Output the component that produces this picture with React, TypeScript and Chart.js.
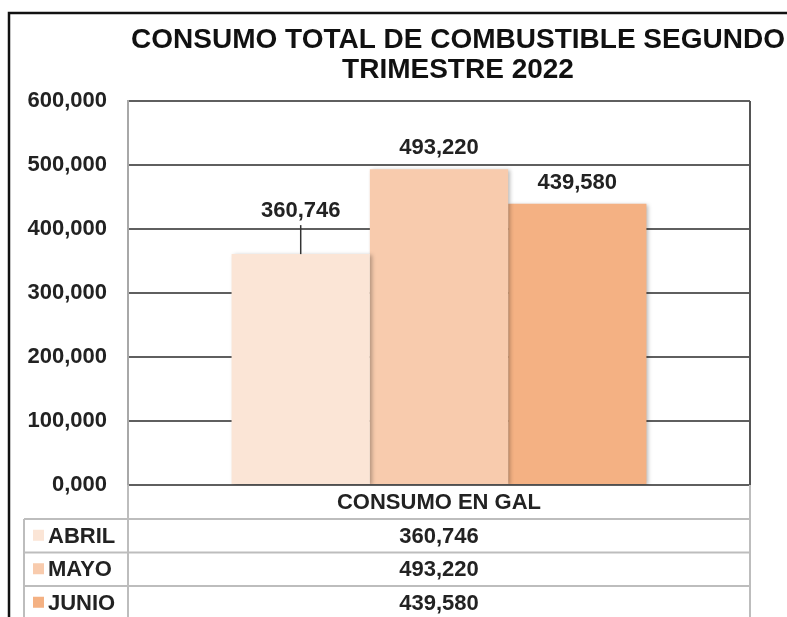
import React, { useEffect, useRef } from "react";
import { Chart, registerables } from "chart.js";

Chart.register(...registerables);

const titleLines = ["CONSUMO TOTAL DE COMBUSTIBLE SEGUNDO", "TRIMESTRE 2022"];
const categories = ["CONSUMO EN GAL"];
const seriesNames = ["ABRIL", "MAYO", "JUNIO"];
const seriesValues = [360746, 493220, 439580];
const seriesColors = ["#FBE5D6", "#F8CBAD", "#F4B183"];
const yMin = 0;
const yMax = 600000;
const yStep = 100000;

const FONT = '"Liberation Sans", Arial, sans-serif';
const fmt = (v: number) => (v / 1000).toFixed(3).replace(".", ",");

const decorPlugin = {
  id: "decor",
  beforeDatasetsDraw(chart: any) {
    const ctx = chart.ctx;
    ctx.save();
    ctx.shadowColor = "rgba(0,0,0,0.28)";
    ctx.shadowBlur = 4;
    ctx.shadowOffsetX = 2;
    ctx.shadowOffsetY = 1;
  },
  afterDatasetsDraw(chart: any) {
    const ctx = chart.ctx;
    ctx.restore();
    ctx.save();
    ctx.font = `bold 22px ${FONT}`;
    ctx.fillStyle = "#222";
    ctx.textAlign = "center";
    ctx.textBaseline = "middle";
    chart.data.datasets.forEach((ds: any, i: number) => {
      const meta = chart.getDatasetMeta(i);
      meta.data.forEach((bar: any, j: number) => {
        const v = ds.data[j];
        if (i === 0) {
          const ly = bar.y - 43;
          ctx.fillText(fmt(v), bar.x, ly);
          ctx.strokeStyle = "#333";
          ctx.lineWidth = 1.5;
          ctx.beginPath();
          ctx.moveTo(bar.x, ly + 14);
          ctx.lineTo(bar.x, bar.y);
          ctx.stroke();
        } else {
          ctx.fillText(fmt(v), bar.x, bar.y - 21);
        }
      });
    });
    ctx.restore();
  },
  afterDraw(chart: any) {
    const ctx = chart.ctx;
    const { left, right, top, bottom } = chart.chartArea;
    const H = chart.height;
    const W = chart.width;
    ctx.save();
    // title
    ctx.font = `bold 28px ${FONT}`;
    ctx.fillStyle = "#111";
    ctx.textAlign = "center";
    ctx.textBaseline = "middle";
    titleLines.forEach((t, i) => ctx.fillText(t, 458, 40 + i * 30));

    // outer frame
    ctx.strokeStyle = "#111";
    ctx.lineWidth = 2.5;
    ctx.beginPath();
    ctx.moveTo(9, H);
    ctx.lineTo(9, 13);
    ctx.lineTo(W, 13);
    ctx.stroke();

    // plot right border
    ctx.strokeStyle = "#555";
    ctx.lineWidth = 2;
    ctx.beginPath();
    ctx.moveTo(right, top);
    ctx.lineTo(right, bottom);
    ctx.stroke();

    // data table
    const headerH = 34;
    const rowH = 33.5;
    const tableLeft = 24;
    ctx.strokeStyle = "#bdbdbd";
    ctx.lineWidth = 2;
    ctx.beginPath();
    ctx.moveTo(left, bottom);
    ctx.lineTo(left, H);
    ctx.moveTo(right, bottom);
    ctx.lineTo(right, H);
    ctx.moveTo(tableLeft, bottom + headerH);
    ctx.lineTo(tableLeft, H);
    for (let i = 0; i < seriesNames.length; i++) {
      const y = bottom + headerH + i * rowH;
      ctx.moveTo(tableLeft, y);
      ctx.lineTo(right, y);
    }
    ctx.stroke();

    ctx.font = `bold 22px ${FONT}`;
    ctx.fillStyle = "#222";
    ctx.textBaseline = "middle";
    ctx.textAlign = "center";
    ctx.fillText(categories[0], (left + right) / 2, bottom + headerH / 2 + 1);
    seriesNames.forEach((name, i) => {
      const cy = bottom + headerH + i * rowH + rowH / 2;
      ctx.fillStyle = seriesColors[i];
      ctx.fillRect(33, cy - 6, 11, 11);
      ctx.fillStyle = "#222";
      ctx.textAlign = "left";
      ctx.fillText(name, 48, cy + 1);
      ctx.textAlign = "center";
      ctx.fillText(fmt(seriesValues[i]), (left + right) / 2, cy + 1);
    });
    ctx.restore();
  },
};

export default function App() {
  const ref = useRef<HTMLCanvasElement>(null);
  useEffect(() => {
    if (!ref.current) return;
    const chart = new Chart(ref.current, {
      type: "bar",
      data: {
        labels: categories,
        datasets: seriesNames.map((name, i) => ({
          label: name,
          data: [seriesValues[i]],
          backgroundColor: seriesColors[i],
          borderWidth: 0,
          categoryPercentage: 0.667,
          barPercentage: 1,
        })),
      },
      options: {
        animation: false,
        responsive: true,
        maintainAspectRatio: false,
        layout: { padding: { left: 0, right: 37, top: 101, bottom: 132 } },
        plugins: {
          legend: { display: false },
          title: { display: false },
          tooltip: { enabled: false },
        },
        scales: {
          x: { display: false },
          y: {
            min: yMin,
            max: yMax,
            afterFit: (s: any) => {
              s.width = 128;
            },
            ticks: {
              stepSize: yStep,
              padding: 21,
              color: "#222",
              font: { family: FONT, size: 22, weight: "bold" },
              callback: (v: any) => fmt(Number(v)),
            },
            grid: { color: "#5f5f5f", lineWidth: 2, drawTicks: false },
            border: { color: "#a8a8a8", width: 2 },
          },
        },
      },
      plugins: [decorPlugin],
    });
    return () => chart.destroy();
  }, []);
  return (
    <div style={{ position: "absolute", left: 0, top: 0, width: 787, height: 617, background: "#fff" }}>
      <canvas ref={ref} />
    </div>
  );
}
